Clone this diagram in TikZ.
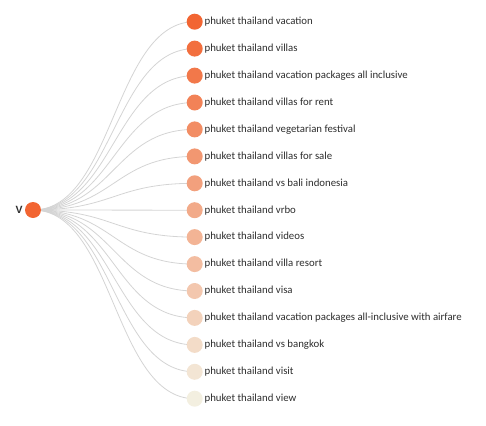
\documentclass[tikz,border=0pt]{standalone}
\usepackage{fontspec}
\setmainfont{Carlito}
\newfontfamily\rootfont{Liberation Sans}
\definecolor{kworange}{RGB}{242, 101, 50}
\definecolor{kwcream}{RGB}{243, 239, 224}
\definecolor{linkgray}{RGB}{212, 212, 212}
\definecolor{kwtextgray}{RGB}{45, 45, 45}
\usetikzlibrary{positioning, backgrounds}

\begin{document}
\begin{tikzpicture}[
  x=1pt, y=-1pt,
  kwdot/.style={circle, inner sep=0pt, minimum size=16pt},
  kwtext/.style={inner sep=1.5pt, text=kwtextgray, font=\fontsize{10.8}{12}\selectfont},
  link/.style={draw=linkgray, line width=0.8pt}
]
  \useasboundingbox (0,0) rectangle (486,425);

  % root
  \node[kwdot, fill=kworange] (root) at (33,210) {};
  \node[kwtext, left=0.5pt of root, font=\rootfont\fontsize{10.5}{12}\selectfont\bfseries] (rootlbl) {V};

  % keywords
  \node[kwdot, fill=kworange] (k1) at (194.7,21.7) {};
  \node[kwtext, right=0pt of k1] (t1) {phuket thailand vacation};
  \node[kwdot, fill=kworange!93!kwcream] (k2) at (194.7,48.6) {};
  \node[kwtext, right=0pt of k2] (t2) {phuket thailand villas};
  \node[kwdot, fill=kworange!86!kwcream] (k3) at (194.7,75.6) {};
  \node[kwtext, right=0pt of k3] (t3) {phuket thailand vacation packages all inclusive};
  \node[kwdot, fill=kworange!79!kwcream] (k4) at (194.7,102.5) {};
  \node[kwtext, right=0pt of k4] (t4) {phuket thailand villas for rent};
  \node[kwdot, fill=kworange!71!kwcream] (k5) at (194.7,129.4) {};
  \node[kwtext, right=0pt of k5] (t5) {phuket thailand vegetarian festival};
  \node[kwdot, fill=kworange!64!kwcream] (k6) at (194.7,156.4) {};
  \node[kwtext, right=0pt of k6] (t6) {phuket thailand villas for sale};
  \node[kwdot, fill=kworange!57!kwcream] (k7) at (194.7,183.3) {};
  \node[kwtext, right=0pt of k7] (t7) {phuket thailand vs bali indonesia};
  \node[kwdot, fill=kworange!50!kwcream] (k8) at (194.7,210.2) {};
  \node[kwtext, right=0pt of k8] (t8) {phuket thailand vrbo};
  \node[kwdot, fill=kworange!43!kwcream] (k9) at (194.7,237.1) {};
  \node[kwtext, right=0pt of k9] (t9) {phuket thailand videos};
  \node[kwdot, fill=kworange!36!kwcream] (k10) at (194.7,264.1) {};
  \node[kwtext, right=0pt of k10] (t10) {phuket thailand villa resort};
  \node[kwdot, fill=kworange!29!kwcream] (k11) at (194.7,291.0) {};
  \node[kwtext, right=0pt of k11] (t11) {phuket thailand visa};
  \node[kwdot, fill=kworange!21!kwcream] (k12) at (194.7,317.9) {};
  \node[kwtext, right=0pt of k12] (t12) {phuket thailand vacation packages all-inclusive with airfare};
  \node[kwdot, fill=kworange!14!kwcream] (k13) at (194.7,344.9) {};
  \node[kwtext, right=0pt of k13] (t13) {phuket thailand vs bangkok};
  \node[kwdot, fill=kworange!7!kwcream] (k14) at (194.7,371.8) {};
  \node[kwtext, right=0pt of k14] (t14) {phuket thailand visit};
  \node[kwdot, fill=kwcream] (k15) at (194.7,398.7) {};
  \node[kwtext, right=0pt of k15] (t15) {phuket thailand view};

  % links
  \begin{scope}[on background layer]
    \draw[link] (root.center) .. controls +(81,0) and +(-81,0) .. (k1.center);
    \draw[link] (root.center) .. controls +(81,0) and +(-81,0) .. (k2.center);
    \draw[link] (root.center) .. controls +(81,0) and +(-81,0) .. (k3.center);
    \draw[link] (root.center) .. controls +(81,0) and +(-81,0) .. (k4.center);
    \draw[link] (root.center) .. controls +(81,0) and +(-81,0) .. (k5.center);
    \draw[link] (root.center) .. controls +(81,0) and +(-81,0) .. (k6.center);
    \draw[link] (root.center) .. controls +(81,0) and +(-81,0) .. (k7.center);
    \draw[link] (root.center) .. controls +(81,0) and +(-81,0) .. (k8.center);
    \draw[link] (root.center) .. controls +(81,0) and +(-81,0) .. (k9.center);
    \draw[link] (root.center) .. controls +(81,0) and +(-81,0) .. (k10.center);
    \draw[link] (root.center) .. controls +(81,0) and +(-81,0) .. (k11.center);
    \draw[link] (root.center) .. controls +(81,0) and +(-81,0) .. (k12.center);
    \draw[link] (root.center) .. controls +(81,0) and +(-81,0) .. (k13.center);
    \draw[link] (root.center) .. controls +(81,0) and +(-81,0) .. (k14.center);
    \draw[link] (root.center) .. controls +(81,0) and +(-81,0) .. (k15.center);
  \end{scope}
\end{tikzpicture}
\end{document}
